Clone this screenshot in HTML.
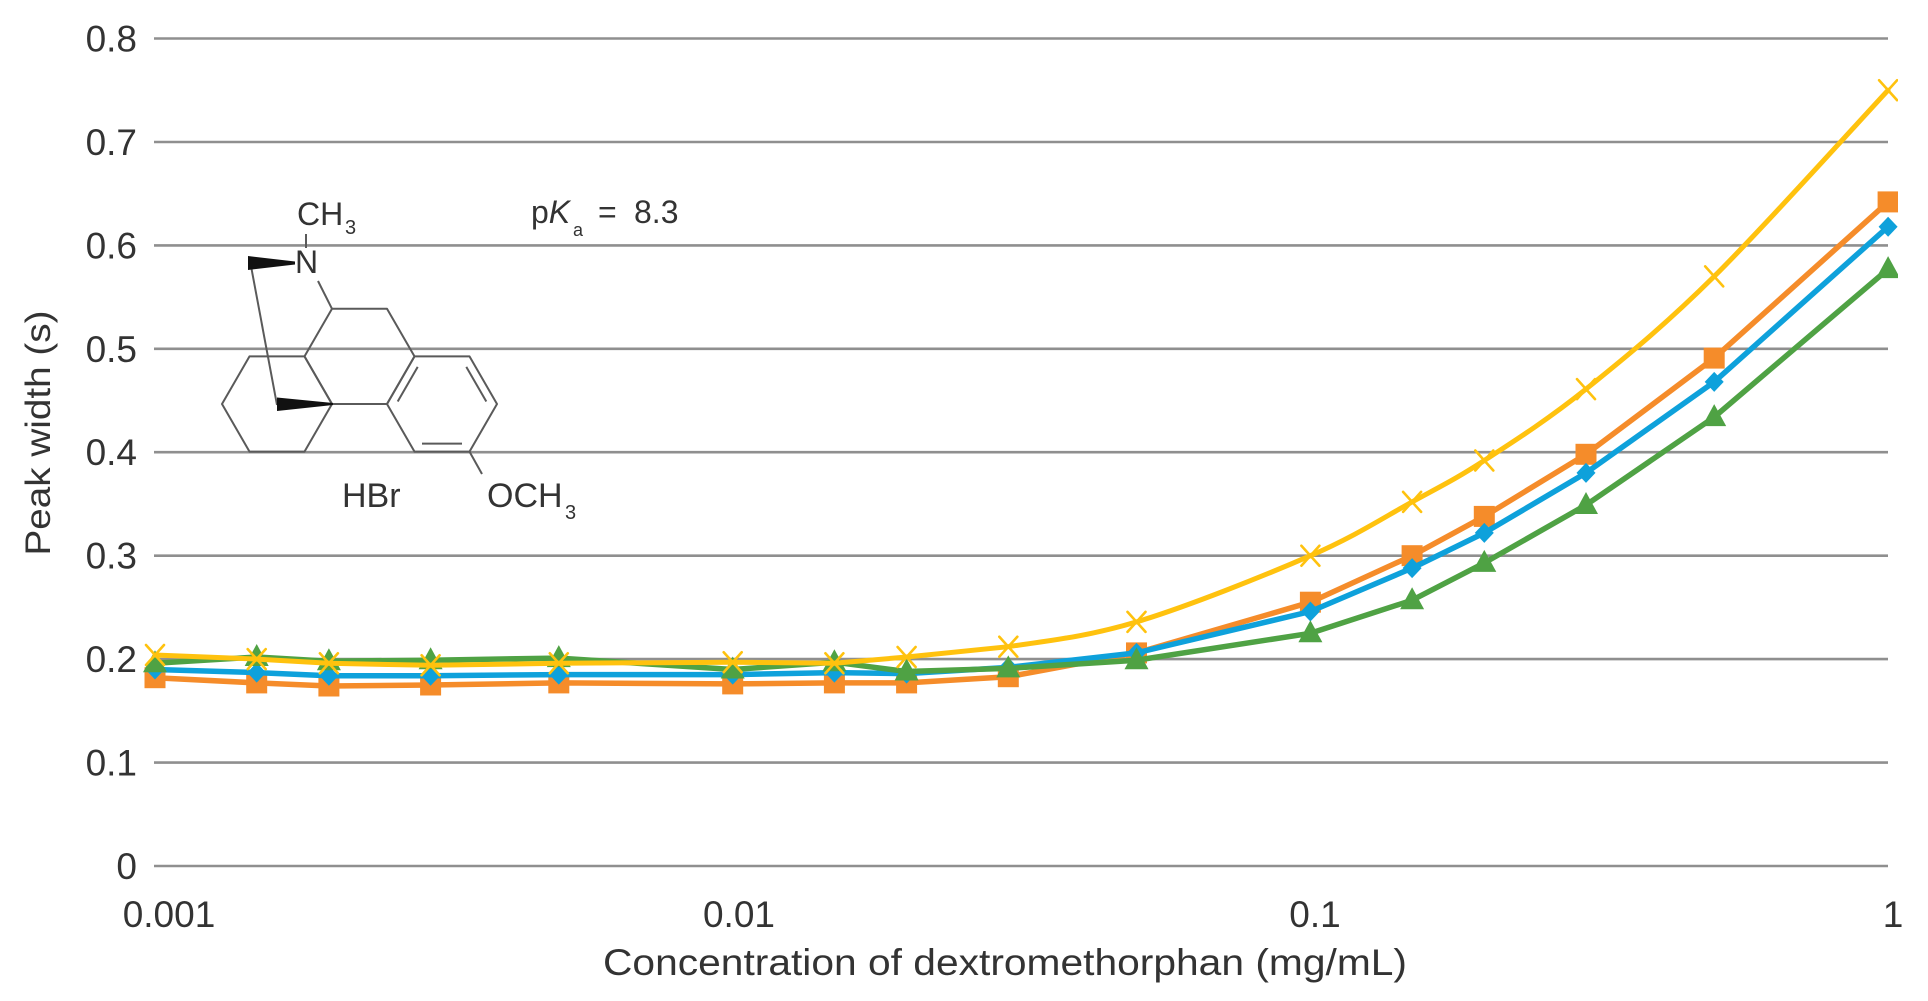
<!DOCTYPE html>
<html>
<head>
<meta charset="utf-8">
<style>
  html, body { margin: 0; padding: 0; background: #ffffff; }
  body { width: 1928px; height: 1001px; overflow: hidden; }
  svg { display: block; }
  text { font-family: "Liberation Sans", "DejaVu Sans", sans-serif; fill: #333333; }
</style>
</head>
<body>
<svg width="1928" height="1001" viewBox="0 0 1928 1001" xmlns="http://www.w3.org/2000/svg">
  <defs>
    <clipPath id="plotclip"><rect x="0" y="0" width="1898" height="1001"/></clipPath>
    <rect id="sq" x="-10.5" y="-10.5" width="21" height="21" fill="#F58C2A"/>
    <polygon id="dm" points="0,-10 9.5,0 0,10 -9.5,0" fill="#0EA1DB"/>
    <polygon id="tr" points="0,-13 12,9 -12,9" fill="#4FA244"/>
    <g id="xx" stroke="#FFC20E" stroke-width="2.6" stroke-linecap="round">
      <line x1="-9" y1="-10" x2="9" y2="10"/>
      <line x1="-9" y1="10" x2="9" y2="-10"/>
    </g>
  </defs>

  <!-- gridlines -->
  <g stroke="#8f8f8f" stroke-width="2.6">
    <line x1="154" y1="38.5" x2="1888" y2="38.5"/>
    <line x1="154" y1="142" x2="1888" y2="142"/>
    <line x1="154" y1="245.4" x2="1888" y2="245.4"/>
    <line x1="154" y1="348.8" x2="1888" y2="348.8"/>
    <line x1="154" y1="452.2" x2="1888" y2="452.2"/>
    <line x1="154" y1="555.7" x2="1888" y2="555.7"/>
    <line x1="154" y1="659.1" x2="1888" y2="659.1"/>
    <line x1="154" y1="762.6" x2="1888" y2="762.6"/>
    <line x1="154" y1="866" x2="1888" y2="866"/>
  </g>

  <!-- y tick labels -->
  <g font-size="37" text-anchor="end">
    <text x="137" y="51.5">0.8</text>
    <text x="137" y="155">0.7</text>
    <text x="137" y="258.4">0.6</text>
    <text x="137" y="361.8">0.5</text>
    <text x="137" y="465.2">0.4</text>
    <text x="137" y="568.7">0.3</text>
    <text x="137" y="672.1">0.2</text>
    <text x="137" y="775.6">0.1</text>
    <text x="137" y="879">0</text>
  </g>

  <!-- x tick labels -->
  <g font-size="37" text-anchor="middle">
    <text x="169" y="927">0.001</text>
    <text x="739" y="927">0.01</text>
    <text x="1315" y="927">0.1</text>
    <text x="1893" y="927">1</text>
  </g>

  <!-- axis titles -->
  <text x="603" y="975" font-size="37" textLength="804" lengthAdjust="spacingAndGlyphs">Concentration of dextromethorphan (mg/mL)</text>
  <text transform="translate(50,433) rotate(-90)" x="0" y="0" font-size="35" text-anchor="middle" textLength="245" lengthAdjust="spacingAndGlyphs">Peak width (s)</text>

  <!-- molecule -->
  <g stroke="#5a5a5a" stroke-width="2" fill="none" stroke-linejoin="round">
    <polygon points="332,404 304.5,451.6 249.5,451.6 222,404 249.5,356.4 304.5,356.4"/>
    <polygon points="332,308.8 387,308.8 414.5,356.4 387,404 332,404 304.5,356.4"/>
    <polygon points="414.5,356.4 469.5,356.4 497,404 469.5,451.6 414.5,451.6 387,404"/>
    <line x1="397.7" y1="401.5" x2="417.7" y2="366.9"/>
    <line x1="466.3" y1="366.9" x2="486.3" y2="401.5"/>
    <line x1="422" y1="443.6" x2="462" y2="443.6"/>
    <line x1="306" y1="234" x2="306" y2="248"/>
    <line x1="318" y1="281" x2="332" y2="308.8"/>
    <line x1="251" y1="266" x2="277" y2="405"/>
    <line x1="469.5" y1="451.6" x2="482" y2="474"/>
  </g>
  <polygon points="248,256 248,270 295,264.5 295,261.5" fill="#111"/>
  <polygon points="277,397.5 277,411 333,405 333,403" fill="#111"/>

  <g font-size="32">
    <text x="297" y="225">CH</text>
    <text x="345" y="234" font-size="20">3</text>
    <text x="295" y="273">N</text>
  </g>
  <g font-size="34">
    <text x="342" y="507">HBr</text>
    <text x="487" y="507">OCH</text>
    <text x="565" y="519" font-size="20">3</text>
  </g>

  <!-- pKa -->
  <g font-size="32">
    <text x="531" y="223">p<tspan font-style="italic">K</tspan></text>
    <text x="573" y="236" font-size="18">a</text>
    <text x="598" y="223">=</text>
    <text x="634" y="223">8.3</text>
  </g>

  <!-- series -->
  <g clip-path="url(#plotclip)" fill="none" stroke-linejoin="round" stroke-linecap="round">
    <polyline stroke="#F58C2A" stroke-width="5.5" points="155,677.7 256.7,682.9 328.9,686.0 430.6,685.0 558.8,682.9 732.7,683.9 834.4,682.9 906.6,682.9 1008.3,676.7 1136.5,652.9 1310.4,602.2 1412.1,555.7 1484.3,516.4 1586.0,454.3 1714.2,358.1 1888.1,201.9"/>
    <g>
      <use href="#sq" x="155" y="677.7"/><use href="#sq" x="256.7" y="682.9"/><use href="#sq" x="328.9" y="686"/><use href="#sq" x="430.6" y="685"/>
      <use href="#sq" x="558.8" y="682.9"/><use href="#sq" x="732.7" y="683.9"/><use href="#sq" x="834.4" y="682.9"/><use href="#sq" x="906.6" y="682.9"/>
      <use href="#sq" x="1008.3" y="676.7"/><use href="#sq" x="1136.5" y="652.9"/><use href="#sq" x="1310.4" y="602.2"/><use href="#sq" x="1412.1" y="555.7"/>
      <use href="#sq" x="1484.3" y="516.4"/><use href="#sq" x="1586" y="454.3"/><use href="#sq" x="1714.2" y="358.1"/><use href="#sq" x="1888.1" y="201.9"/>
    </g>

    <polyline stroke="#0EA1DB" stroke-width="5.5" points="155,669.5 256.7,672.6 328.9,675.7 430.6,675.7 558.8,674.6 732.7,674.6 834.4,672.6 906.6,673.6 1008.3,667.4 1136.5,652.9 1310.4,611.5 1412.1,568.1 1484.3,532.9 1586.0,472.9 1714.2,381.9 1888.1,226.7"/>
    <g>
      <use href="#dm" x="155" y="669.5"/><use href="#dm" x="256.7" y="672.6"/><use href="#dm" x="328.9" y="675.7"/><use href="#dm" x="430.6" y="675.7"/>
      <use href="#dm" x="558.8" y="674.6"/><use href="#dm" x="732.7" y="674.6"/><use href="#dm" x="834.4" y="672.6"/><use href="#dm" x="906.6" y="673.6"/>
      <use href="#dm" x="1008.3" y="667.4"/><use href="#dm" x="1136.5" y="652.9"/><use href="#dm" x="1310.4" y="611.5"/><use href="#dm" x="1412.1" y="568.1"/>
      <use href="#dm" x="1484.3" y="532.9"/><use href="#dm" x="1586" y="472.9"/><use href="#dm" x="1714.2" y="381.9"/><use href="#dm" x="1888.1" y="226.7"/>
    </g>

    <polyline stroke="#4FA244" stroke-width="5.5" points="155,663.3 256.7,657.0 328.9,661.2 430.6,660.2 558.8,658.1 732.7,669.5 834.4,662.2 906.6,671.5 1008.3,668.4 1136.5,660.2 1310.4,633.3 1412.1,600.2 1484.3,562.9 1586.0,505.0 1714.2,417.1 1888.1,269.1"/>
    <g>
      <use href="#tr" x="155" y="663.3"/><use href="#tr" x="256.7" y="657"/><use href="#tr" x="328.9" y="661.2"/><use href="#tr" x="430.6" y="660.2"/>
      <use href="#tr" x="558.8" y="658.1"/><use href="#tr" x="732.7" y="669.5"/><use href="#tr" x="834.4" y="662.2"/><use href="#tr" x="906.6" y="671.5"/>
      <use href="#tr" x="1008.3" y="668.4"/><use href="#tr" x="1136.5" y="660.2"/><use href="#tr" x="1310.4" y="633.3"/><use href="#tr" x="1412.1" y="600.2"/>
      <use href="#tr" x="1484.3" y="562.9"/><use href="#tr" x="1586" y="505"/><use href="#tr" x="1714.2" y="417.1"/><use href="#tr" x="1888.1" y="269.1"/>
    </g>

    <path stroke="#FFC20E" stroke-width="5" d="M155,655 L256.7,659.1 L328.9,663.3 L430.6,665.3 L558.8,663.3 L732.7,662.2 L834.4,663.3 L906.6,657 L1008.3,646.7 C1046.6,640.85 1086.2,637.07 1136.5,621.9 C1186.85,606.73 1264.5,575.7 1310.4,555.7 C1356.3,535.7 1383.1,517.77 1412.1,501.9 C1441.1,486.03 1455.3,479.3 1484.3,460.5 C1513.3,441.7 1547.7,419.78 1586,389.1 C1624.3,358.4 1663.85,326.2 1714.2,276.4 C1764.55,226.6 1859.1,121.2 1888.1,90.2"/>
    <g>
      <use href="#xx" x="155" y="655"/><use href="#xx" x="256.7" y="659.1"/><use href="#xx" x="328.9" y="663.3"/><use href="#xx" x="430.6" y="665.3"/>
      <use href="#xx" x="558.8" y="663.3"/><use href="#xx" x="732.7" y="662.2"/><use href="#xx" x="834.4" y="663.3"/><use href="#xx" x="906.6" y="657"/>
      <use href="#xx" x="1008.3" y="646.7"/><use href="#xx" x="1136.5" y="621.9"/><use href="#xx" x="1310.4" y="555.7"/><use href="#xx" x="1412.1" y="501.9"/>
      <use href="#xx" x="1484.3" y="460.5"/><use href="#xx" x="1586" y="389.1"/><use href="#xx" x="1714.2" y="276.4"/><use href="#xx" x="1888.1" y="90.2"/>
    </g>
  </g>
</svg>
</body>
</html>
